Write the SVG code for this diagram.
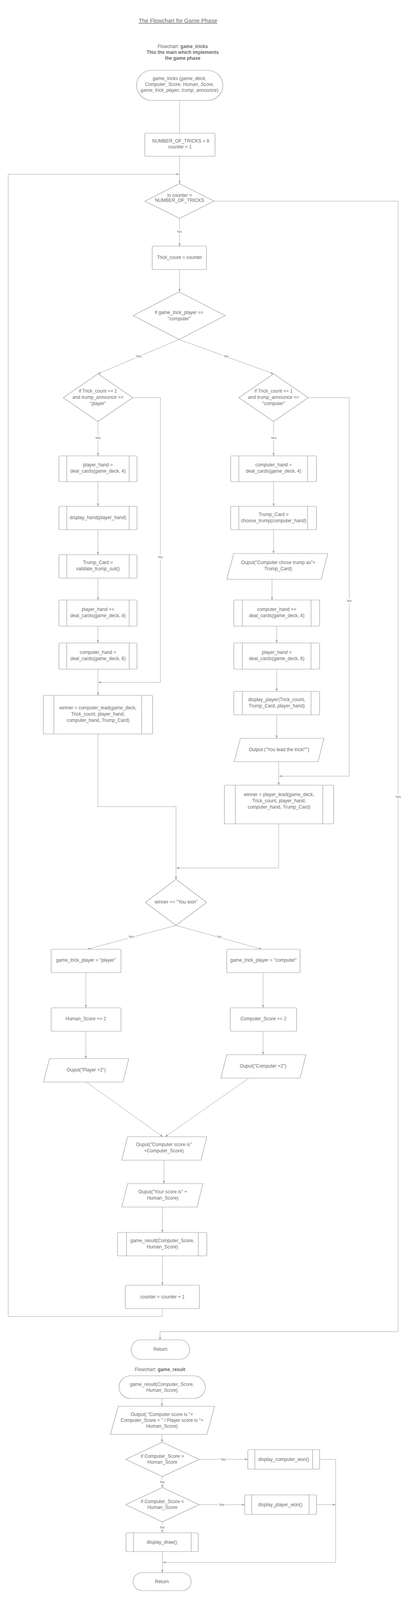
<svg xmlns="http://www.w3.org/2000/svg" width="1048" height="4780" viewBox="0 0 1048 4780">
<defs>
<style>
text{font-family:"Liberation Sans",Arial,sans-serif;font-size:12px;fill:#6b6b6b;text-anchor:middle}
.n{fill:#fff;stroke:#9c9c9c;stroke-width:1.2}
.s{fill:none;stroke:#9c9c9c;stroke-width:1.2}
.ca{fill:none;stroke:#a3a3a3;stroke-width:1;marker-end:url(#ah)}
.lb{font-size:9px}
.lbg{fill:#fff}
.t{font-size:14.5px;text-decoration:underline}
.h{font-weight:bold}
.i{font-style:italic}
</style>
<marker id="ah" viewBox="0 0 10 8" refX="10" refY="4" markerWidth="7" markerHeight="6" markerUnits="userSpaceOnUse" orient="auto">
<path d="M0,0 L10,4 L0,8 z" fill="#a3a3a3"/>
</marker>
</defs>
<rect width="1048" height="4780" fill="#fff"/>

<g id="titles">
<text class="t" x="456" y="58">The Flowchart for Game Phase</text>
<text x="468" y="123"><tspan>Flowchart: </tspan><tspan class="h">game_tricks</tspan></text>
<text class="h" x="468" y="138">This the main which implements</text>
<text class="h" x="468" y="153">the game phase</text>
<text x="410" y="3510"><tspan>Flowchart: </tspan><tspan class="h">game_result</tspan></text>
</g>

<g id="connectors">
<path class="ca" d="M460,257 V470"/>
<path class="ca" d="M416,3350 V3370 H21 V446 H459"/>
<path class="ca" d="M460,559 V630"/>
<path class="ca" d="M548.5,515 H1020 V3409 H410 V3430"/>
<path class="ca" d="M460,690 V747"/>
<path class="ca" d="M459,869 L251,957"/>
<path class="ca" d="M459,869 L701,957"/>
<path class="ca" d="M251,1079 V1167"/>
<path class="ca" d="M340,1018 H411 V1747 H252"/>
<path class="ca" d="M251,1233 V1296"/>
<path class="ca" d="M251,1356 V1420"/>
<path class="ca" d="M251,1480 V1536"/>
<path class="ca" d="M251,1603 V1646"/>
<path class="ca" d="M251,1713 V1780"/>
<path class="ca" d="M251,1879 V2065 H451 V2251"/>
<path class="ca" d="M701,1079 V1167"/>
<path class="ca" d="M790,1018 H895 V1987 H715"/>
<path class="ca" d="M701,1233 V1296"/>
<path class="ca" d="M701,1356 V1417"/>
<path class="ca" d="M697,1483 V1536"/>
<path class="ca" d="M709,1603 V1646"/>
<path class="ca" d="M709,1713 V1770"/>
<path class="ca" d="M709,1830 V1890"/>
<path class="ca" d="M714,1950 V2010"/>
<path class="ca" d="M714,2109 V2222 H452"/>
<path class="ca" d="M451,2369 L224,2430"/>
<path class="ca" d="M451,2369 L671,2430"/>
<path class="ca" d="M220,2490 V2580"/>
<path class="ca" d="M674,2490 V2580"/>
<path class="ca" d="M220,2640 V2710"/>
<path class="ca" d="M674,2640 V2700"/>
<path class="ca" d="M221,2770 L417,2910"/>
<path class="ca" d="M638,2760 L423,2910"/>
<path class="ca" d="M420,2970 V3030"/>
<path class="ca" d="M416,3090 V3155"/>
<path class="ca" d="M416,3215 V3290"/>
<path class="ca" d="M415,3580 V3600"/>
<path class="ca" d="M415,3672 V3692"/>
<path class="ca" d="M510,3736 H635"/>
<path class="ca" d="M819,3736 H860 V4000 H417"/>
<path class="ca" d="M416,3780 V3808"/>
<path class="ca" d="M510,3852 H627"/>
<path class="ca" d="M811,3852 H860"/>
<path class="ca" d="M416,3896 V3924"/>
<path class="ca" d="M416,3972 V4026"/>
</g>

<g id="labels">
<rect class="lbg" x="452" y="587" width="16" height="12"/><text class="lb" x="460" y="596">No</text>
<rect class="lbg" x="1011" y="2034" width="18" height="12"/><text class="lb" x="1020" y="2043">Yes</text>
<rect class="lbg" x="346" y="906" width="18" height="12"/><text class="lb" x="355" y="915">Yes</text>
<rect class="lbg" x="572" y="906" width="16" height="12"/><text class="lb" x="580" y="915">No</text>
<rect class="lbg" x="242" y="1115" width="18" height="12"/><text class="lb" x="251" y="1124">Yes</text>
<rect class="lbg" x="403" y="1420" width="16" height="12"/><text class="lb" x="411" y="1429">No</text>
<rect class="lbg" x="692" y="1115" width="18" height="12"/><text class="lb" x="701" y="1124">Yes</text>
<rect class="lbg" x="887" y="1532" width="16" height="12"/><text class="lb" x="895" y="1541">No</text>
<rect class="lbg" x="327" y="2392" width="18" height="12"/><text class="lb" x="336" y="2401">Yes</text>
<rect class="lbg" x="554" y="2392" width="16" height="12"/><text class="lb" x="562" y="2401">No</text>
<rect class="lbg" x="563" y="3730" width="18" height="12"/><text class="lb" x="572" y="3739">Yes</text>
<rect class="lbg" x="408" y="3788" width="16" height="12"/><text class="lb" x="416" y="3797">No</text>
<rect class="lbg" x="559" y="3846" width="18" height="12"/><text class="lb" x="568" y="3855">Yes</text>
<rect class="lbg" x="408" y="3904" width="16" height="12"/><text class="lb" x="416" y="3913">No</text>
</g>

<g id="start1">
<rect class="n" x="350" y="180" width="221" height="77" rx="38.5"/>
<text x="460" y="205">game_tricks (<tspan class="i">game_deck</tspan>,</text>
<text x="460" y="220"><tspan class="i">Computer_Score</tspan>, <tspan class="i">Human_Score</tspan>,</text>
<text x="460" y="235"><tspan class="i">game_trick_player</tspan>, <tspan class="i">trump_announce</tspan>)</text>
</g>
<g id="init">
<rect class="n" x="371" y="341" width="180" height="59" rx="3"/>
<text x="463" y="365">NUMBER_OF_TRICKS = 8</text>
<text x="461" y="380">counter = 1</text>
</g>
<g id="d_counter">
<polygon class="n" points="460,470 548.5,515 460,559 371.5,515"/>
<text x="460" y="504">Is counter &gt;</text>
<text x="460" y="517">NUMBER_OF_TRICKS</text>
</g>
<g id="trick_count">
<rect class="n" x="390" y="630" width="139" height="60" rx="3"/>
<text x="460" y="663">Trick_count = counter</text>
</g>
<g id="d_player">
<polygon class="n" points="459,747 577,808 459,869 341,808"/>
<text x="459" y="804">if game_trick_player ==</text>
<text x="459" y="820">"computer"</text>
</g>
<g id="d_left">
<polygon class="n" points="251,957 340,1018 251,1079 162,1018"/>
<text x="251" y="1005">if Trick_count == 1</text>
<text x="251" y="1021">and trump_announce ==</text>
<text x="251" y="1037">"player"</text>
</g>
<g id="d_right">
<polygon class="n" points="701,957 790,1018 701,1079 612,1018"/>
<text x="701" y="1005">if Trick_count == 1</text>
<text x="701" y="1021">and trump_announce ==</text>
<text x="701" y="1037">"computer"</text>
</g>

<g id="l1">
<rect class="n" x="151" y="1167" width="200" height="66" rx="3"/>
<path class="s" d="M171,1167 V1233 M331,1167 V1233"/>
<text x="251" y="1194">player_hand =</text>
<text x="251" y="1210">deal_cards(game_deck, 4)</text>
</g>
<g id="l2">
<rect class="n" x="151" y="1296" width="200" height="60" rx="3"/>
<path class="s" d="M171,1296 V1356 M331,1296 V1356"/>
<text x="251" y="1329">display_hand(player_hand)</text>
</g>
<g id="l3">
<rect class="n" x="151" y="1420" width="200" height="60" rx="3"/>
<path class="s" d="M171,1420 V1480 M331,1420 V1480"/>
<text x="251" y="1444">Trump_Card =</text>
<text x="251" y="1460">validate_trump_suit()</text>
</g>
<g id="l4">
<rect class="n" x="151" y="1536" width="200" height="67" rx="3"/>
<path class="s" d="M171,1536 V1603 M331,1536 V1603"/>
<text x="251" y="1564">player_hand +=</text>
<text x="251" y="1580">deal_cards(game_deck, 4)</text>
</g>
<g id="l5">
<rect class="n" x="151" y="1646" width="200" height="67" rx="3"/>
<path class="s" d="M171,1646 V1713 M331,1646 V1713"/>
<text x="251" y="1674">computer_hand =</text>
<text x="251" y="1690">deal_cards(game_deck, 8)</text>
</g>
<g id="l6">
<rect class="n" x="111" y="1780" width="280" height="99" rx="3"/>
<path class="s" d="M138,1780 V1879 M363,1780 V1879"/>
<text x="251" y="1816">winner = computer_lead(game_deck,</text>
<text x="251" y="1832">Trick_count, player_hand,</text>
<text x="251" y="1848">computer_hand, Trump_Card)</text>
</g>

<g id="r1">
<rect class="n" x="591" y="1167" width="220" height="66" rx="3"/>
<path class="s" d="M612,1167 V1233 M788,1167 V1233"/>
<text x="701" y="1194">computer_hand =</text>
<text x="701" y="1210">deal_cards(game_deck, 4)</text>
</g>
<g id="r2">
<rect class="n" x="591" y="1296" width="220" height="60" rx="3"/>
<path class="s" d="M612,1296 V1356 M788,1296 V1356"/>
<text x="701" y="1321">Trump_Card =</text>
<text x="701" y="1337">choose_trump(computer_hand)</text>
</g>
<g id="r_out1">
<polygon class="n" points="599,1417 840,1417 823,1483 581,1483"/>
<text x="713" y="1444">Ouput("Computer chose trump as"+</text>
<text x="713" y="1460">Trump_Card)</text>
</g>
<g id="r3">
<rect class="n" x="599" y="1536" width="220" height="67" rx="3"/>
<path class="s" d="M621,1536 V1603 M797,1536 V1603"/>
<text x="709" y="1564">computer_hand +=</text>
<text x="709" y="1580">deal_cards(game_deck, 4)</text>
</g>
<g id="r4">
<rect class="n" x="599" y="1646" width="220" height="67" rx="3"/>
<path class="s" d="M621,1646 V1713 M797,1646 V1713"/>
<text x="709" y="1674">player_hand =</text>
<text x="709" y="1690">deal_cards(game_deck, 8)</text>
</g>
<g id="r5">
<rect class="n" x="599" y="1770" width="220" height="60" rx="3"/>
<path class="s" d="M621,1770 V1830 M797,1770 V1830"/>
<text x="709" y="1795">display_player(Trick_count,</text>
<text x="709" y="1811">Trump_Card, player_hand)</text>
</g>
<g id="r_out2">
<polygon class="n" points="616,1890 830,1890 815,1950 600,1950"/>
<text x="715" y="1923">Output ("You lead the trick!"")</text>
</g>
<g id="r6">
<rect class="n" x="575" y="2010" width="280" height="99" rx="3"/>
<path class="s" d="M603,2010 V2109 M827,2010 V2109"/>
<text x="715" y="2038">winner = player_lead(game_deck,</text>
<text x="715" y="2054">Trick_count, player_hand,</text>
<text x="715" y="2070">computer_hand, Trump_Card)</text>
</g>

<g id="d_winner">
<polygon class="n" points="451,2251 529.5,2310 451,2369 372.5,2310"/>
<text x="451" y="2313">winner == "You won"</text>
</g>
<g id="set_player">
<rect class="n" x="131" y="2430" width="179" height="60" rx="3"/>
<text x="220" y="2462">game_trick_player = "player"</text>
</g>
<g id="set_computer">
<rect class="n" x="581" y="2430" width="188" height="60" rx="3"/>
<text x="675" y="2462">game_trick_player = "computer"</text>
</g>
<g id="human_score">
<rect class="n" x="131" y="2580" width="179" height="60" rx="3"/>
<text x="220" y="2612">Human_Score += 2</text>
</g>
<g id="computer_score">
<rect class="n" x="590" y="2580" width="170" height="60" rx="3"/>
<text x="675" y="2612">Computer_Score += 2</text>
</g>
<g id="out_player">
<polygon class="n" points="127,2710 330,2710 315,2770 111,2770"/>
<text x="221" y="2743">Ouput("Player +2")</text>
</g>
<g id="out_computer">
<polygon class="n" points="581,2700 784,2700 769,2760 566,2760"/>
<text x="674" y="2733">Ouput("Computer +2")</text>
</g>
<g id="out_cscore">
<polygon class="n" points="327,2910 530,2910 515,2970 312,2970"/>
<text x="420" y="2934">Ouput("Computer score is"</text>
<text x="420" y="2950">+Computer_Score)</text>
</g>
<g id="out_hscore">
<polygon class="n" points="327,3030 520,3030 505,3090 312,3090"/>
<text x="417" y="3055">Ouput("Your score is" +</text>
<text x="417" y="3071">Human_Score)</text>
</g>
<g id="call_result">
<rect class="n" x="301" y="3155" width="229" height="60" rx="3"/>
<path class="s" d="M324,3155 V3215 M508,3155 V3215"/>
<text x="416" y="3180">game_result(Computer_Score,</text>
<text x="416" y="3196">Human_Score)</text>
</g>
<g id="inc_counter">
<rect class="n" x="321" y="3290" width="190" height="60" rx="3"/>
<text x="416" y="3324">counter = counter + 1</text>
</g>
<g id="return1">
<rect class="n" x="336" y="3430" width="150" height="50" rx="25"/>
<text x="411" y="3458">Return</text>
</g>

<g id="start2">
<rect class="n" x="305" y="3522" width="221" height="58" rx="29"/>
<text x="415" y="3548">game_result(<tspan class="i">Computer_Score</tspan>,</text>
<text x="415" y="3563"><tspan class="i">Human_Score</tspan>)</text>
</g>
<g id="out_scores">
<polygon class="n" points="303,3600 550,3600 530,3672 283,3672"/>
<text x="415" y="3625">Output( "Computer score is "+</text>
<text x="415" y="3640">Computer_Score + " / Player score is "+</text>
<text x="415" y="3655">Human_Score)</text>
</g>
<g id="d_greater">
<polygon class="n" points="416,3692 510,3736 416,3780 322,3736"/>
<text x="416" y="3732">if Computer_Score &gt;</text>
<text x="416" y="3747">Human_Score</text>
</g>
<g id="computer_won">
<rect class="n" x="635" y="3711" width="184" height="50" rx="3"/>
<path class="s" d="M653,3711 V3761 M801,3711 V3761"/>
<text x="727" y="3740">display_computer_won()</text>
</g>
<g id="d_less">
<polygon class="n" points="416,3808 510,3852 416,3896 322,3852"/>
<text x="416" y="3848">if Computer_Score &lt;</text>
<text x="416" y="3863">Human_Score</text>
</g>
<g id="player_won">
<rect class="n" x="627" y="3827" width="184" height="50" rx="3"/>
<path class="s" d="M645,3827 V3877 M792,3827 V3877"/>
<text x="718" y="3856">display_player_won()</text>
</g>
<g id="draw">
<rect class="n" x="323" y="3924" width="185" height="48" rx="3"/>
<path class="s" d="M342,3924 V3972 M490,3924 V3972"/>
<text x="415" y="3952">display_draw()</text>
</g>
<g id="return2">
<rect class="n" x="341" y="4026" width="149" height="46" rx="23"/>
<text x="415" y="4053">Return</text>
</g>
</svg>
